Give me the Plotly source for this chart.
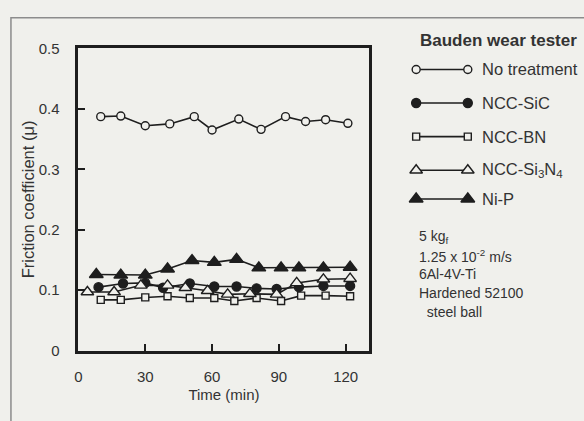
import plotly.graph_objects as go

# ---- data (time in min, friction coefficient) ----
t_none = [10, 19, 30, 41, 52, 60, 72, 82, 93, 102, 111, 121]
mu_none = [0.387, 0.388, 0.372, 0.375, 0.387, 0.365, 0.383, 0.366, 0.387, 0.379, 0.382, 0.376]

t_sic = [9, 20, 30, 38, 50, 61, 71, 80, 89, 99, 110, 122]
mu_sic = [0.105, 0.111, 0.112, 0.104, 0.111, 0.106, 0.106, 0.103, 0.102, 0.105, 0.107, 0.107]

t_bn = [10, 19, 30, 40, 50, 61, 70, 80, 91, 100, 111, 122]
mu_bn = [0.084, 0.084, 0.088, 0.090, 0.087, 0.087, 0.082, 0.087, 0.082, 0.091, 0.091, 0.090]

t_si3n4 = [4, 16, 28, 40, 48, 58, 67, 77, 89, 98, 110, 122]
mu_si3n4 = [0.097, 0.097, 0.108, 0.108, 0.104, 0.099, 0.093, 0.094, 0.093, 0.112, 0.118, 0.119]

t_nip = [8, 19, 30, 40, 51, 61, 71, 81, 91, 99, 110, 122]
mu_nip = [0.126, 0.125, 0.125, 0.135, 0.149, 0.146, 0.151, 0.137, 0.137, 0.137, 0.137, 0.138]

x_ticks = [30, 60, 90, 120]
y_ticks = [0, 0.1, 0.2, 0.3, 0.4, 0.5]

names = ["No treatment", "NCC-SiC", "NCC-BN", "NCC-Si<sub>3</sub>N<sub>4</sub>", "Ni-P"]
notes = ["5 kg<sub>f</sub>", "1.25 x 10<sup>-2</sup> m/s", "6Al-4V-Ti", "Hardened 52100", "  steel ball"]

W, H = 584, 421
BG = "#f0f0ec"
INK = "#1e1e1e"
TXT = "#333333"
FONT = "Liberation Sans, Arial, sans-serif"

styles = [
    dict(symbol="circle", size=8, color=BG),
    dict(symbol="circle", size=9, color=INK),
    dict(symbol="square", size=7, color=BG),
    dict(symbol="triangle-up", size=11, color=BG),
    dict(symbol="triangle-up", size=12, color=INK),
]
series = [(t_none, mu_none), (t_sic, mu_sic), (t_bn, mu_bn), (t_si3n4, mu_si3n4), (t_nip, mu_nip)]

fig = go.Figure()
for (xs, ys), st, nm in zip(series, styles, names):
    fig.add_trace(go.Scatter(
        x=xs, y=ys, mode="lines+markers", name=nm, showlegend=False,
        line=dict(color=INK, width=1.6),
        marker=dict(symbol=st["symbol"], size=st["size"], color=st["color"],
                    line=dict(color=INK, width=1.4)),
        cliponaxis=False))

# custom legend samples (overlay axes in pixel space)
leg_y = [63, 98, 133, 168, 198]
for st, yy in zip(styles, leg_y):
    fig.add_trace(go.Scatter(
        x=[415, 467], y=[yy, yy], xaxis="x2", yaxis="y2", mode="lines+markers",
        showlegend=False, hoverinfo="skip",
        line=dict(color=INK, width=1.6),
        marker=dict(symbol=st["symbol"], size=st["size"], color=st["color"],
                    line=dict(color=INK, width=1.4))))

ann = []
ann.append(dict(x=417 / W, y=1 - 33 / H, xref="paper", yref="paper", text="<b>Bauden wear tester</b>",
                showarrow=False, xanchor="left", yanchor="middle", font=dict(size=17, color=TXT, family=FONT)))
for nm, yy in zip(names, leg_y):
    ann.append(dict(x=479 / W, y=1 - yy / H, xref="paper", yref="paper", text=nm,
                    showarrow=False, xanchor="left", yanchor="middle", font=dict(size=16.5, color=TXT, family=FONT)))
note_y = [238, 257, 276, 296, 316]
for nt, yy in zip(notes, note_y):
    ann.append(dict(x=416 / W, y=1 - yy / H, xref="paper", yref="paper", text=nt,
                    showarrow=False, xanchor="left", yanchor="middle", font=dict(size=14, color=TXT, family=FONT)))

fig.update_layout(
    width=W, height=H, margin=dict(l=0, r=0, t=0, b=0),
    paper_bgcolor=BG, plot_bgcolor="rgba(0,0,0,0)", showlegend=False,
    font=dict(family=FONT, color=TXT),
    xaxis=dict(domain=[75 / W, 368 / W], range=[0, 130.7], tickvals=[0] + x_ticks,
               ticktext=["0"] + [str(v) for v in x_ticks],
               ticks="inside", ticklen=7, tickwidth=2, tickcolor=INK,
               showline=True, linewidth=3, linecolor=INK, mirror=True,
               showgrid=False, zeroline=False, tickfont=dict(size=15, color=TXT),
               ticklabelstandoff=10,
               title=dict(text="Time (min)", font=dict(size=15, color=TXT), standoff=6),
               anchor="y"),
    yaxis=dict(domain=[(H - 356) / H, (H - 41) / H], range=[0, 0.5], tickvals=y_ticks,
               ticktext=["0", "0.1", "0.2", "0.3", "0.4", "0.5"],
               ticks="inside", ticklen=7, tickwidth=2, tickcolor=INK,
               showline=True, linewidth=3, linecolor=INK, mirror=True,
               showgrid=False, zeroline=False, tickfont=dict(size=15, color=TXT),
               ticklabelstandoff=13,
               title=dict(text="Friction coefficient (μ)", font=dict(size=16.5, color=TXT), standoff=0),
               anchor="x"),
    xaxis2=dict(domain=[0, 1], range=[0, W], visible=False, anchor="y2", fixedrange=True),
    yaxis2=dict(domain=[0, 1], range=[H, 0], visible=False, anchor="x2", fixedrange=True),
    annotations=ann,
    shapes=[dict(type="rect", xref="paper", yref="paper", x0=7 / W, y0=1 - 9 / H, x1=1.05, y1=-0.05,
                 line=dict(color="#8c8c8c", width=1.5), fillcolor="rgba(0,0,0,0)", layer="below")],
)

fig.write_html("out.html", config={"displayModeBar": False},
               post_script="document.body.style.margin='0';")
